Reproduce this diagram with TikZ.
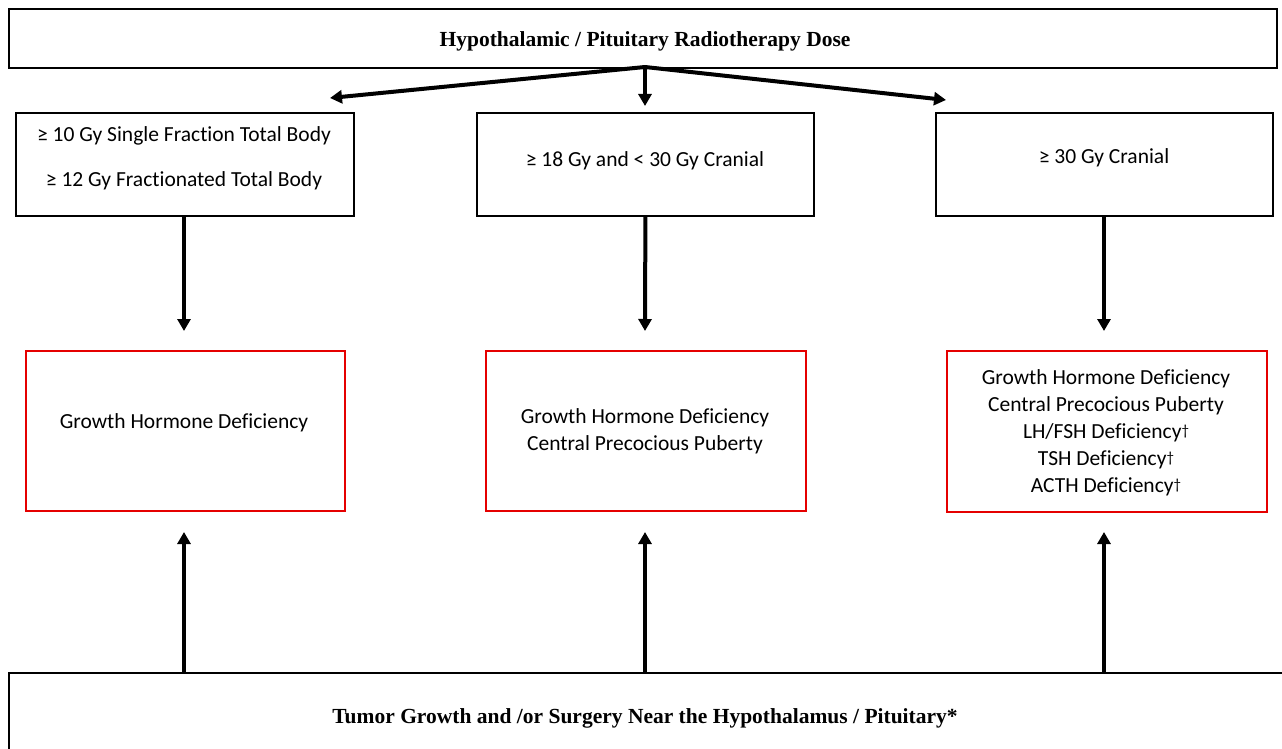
\documentclass[tikz,border=0pt]{standalone}
\usepackage{fontspec}
\setmainfont[Ligatures=NoCommon]{Carlito}
\newfontfamily\serifb{Liberation Serif}
\usetikzlibrary{arrows.meta}
\newcommand{\dagsym}{{\fontsize{15}{15}\selectfont\raisebox{3pt}{†}}}
\begin{document}
\begin{tikzpicture}[x=1pt,y=-1pt,
  blackbox/.style={draw=black,line width=1.8pt,fill=white,inner sep=0pt,anchor=north west},
  redbox/.style={draw=red!90!black,line width=1.5pt,fill=white,inner sep=0pt,anchor=north west},
  arr/.style={line width=4pt,-{Triangle[length=12pt,width=13pt]}},
  txt/.style={font=\fontsize{21.5}{27}\selectfont,align=center},
  ttl/.style={font=\serifb\bfseries\fontsize{21.5}{24}\selectfont}]
\useasboundingbox (0,0) rectangle (1282,749);
\fill[white] (0,0) rectangle (1282,749);
% top box
\node[blackbox,minimum width=1268pt,minimum height=59pt] (top) at (8,8) {};
\node[ttl] (ttop) at (645,41) {Hypothalamic / Pituitary Radiotherapy Dose};
% dose boxes
\node[blackbox,minimum width=338pt,minimum height=103pt] (a) at (15,112) {};
\node[blackbox,minimum width=337pt,minimum height=103pt] (b) at (476,112) {};
\node[blackbox,minimum width=337pt,minimum height=103pt] (c) at (935,112) {};
\node[txt] (ta1) at (184,136) {≥ 10 Gy Single Fraction Total Body};
\node[txt] (ta2) at (184,181) {≥ 12 Gy Fractionated Total Body};
\node[txt] (tb) at (645,161) {≥ 18 Gy and < 30 Gy Cranial};
\node[txt] (tc) at (1104,158) {≥ 30 Gy Cranial};
% red boxes
\node[redbox,minimum width=319pt,minimum height=160pt] (ra) at (25,350) {};
\node[redbox,minimum width=320pt,minimum height=160pt] (rb) at (485,350) {};
\node[redbox,minimum width=320pt,minimum height=161pt] (rc) at (946,350) {};
\node[txt] (tra) at (184,423) {Growth Hormone Deficiency};
\node[txt] (trb) at (645,431) {Growth Hormone Deficiency\\Central Precocious Puberty};
\node[txt] (trc) at (1106,433) {Growth Hormone Deficiency\\Central Precocious Puberty\\LH/FSH Deficiency\dagsym\\TSH Deficiency\dagsym\\ACTH Deficiency\dagsym};
% bottom box
\node[blackbox,minimum width=1290pt,minimum height=100pt] (bot) at (8,672) {};
\node[ttl] (tbot) at (645,718) {Tumor Growth and /or Surgery Near the Hypothalamus / Pituitary*};
% connectors
\coordinate (s) at (645,67);
\coordinate (ea) at (330,98);
\coordinate (eb) at (645,106);
\coordinate (ec) at (946,100);
\coordinate (da) at (184,331);
\coordinate (db) at (645,331);
\coordinate (dc) at (1104,331);
\coordinate (ua) at (184,532);
\coordinate (ub) at (645,532);
\coordinate (uc) at (1104,532);
\draw[arr] (s) -- (ea);
\draw[arr] (s) -- (eb);
\draw[arr] (s) -- (ec);
\draw[arr] (a.south -| da) -- (da);
\draw[arr] (b.south) -- (db);
\draw[arr] (c.south -| dc) -- (dc);
\draw[arr] (bot.north -| ua) -- (ua);
\draw[arr] (bot.north -| ub) -- (ub);
\draw[arr] (bot.north -| uc) -- (uc);
\end{tikzpicture}
\end{document}
